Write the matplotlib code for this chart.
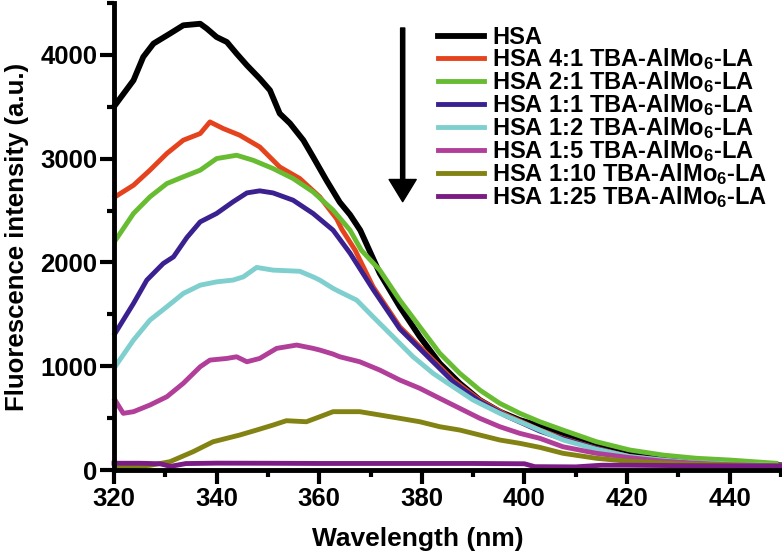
import matplotlib
matplotlib.use('Agg')
import matplotlib.pyplot as plt
from matplotlib.ticker import MultipleLocator

plt.rcParams['font.family'] = ['Liberation Sans', 'DejaVu Sans']
plt.rcParams['font.weight'] = 'bold'
plt.rcParams['mathtext.fontset'] = 'custom'
plt.rcParams['mathtext.rm'] = 'Liberation Sans:bold'
plt.rcParams['mathtext.bf'] = 'Liberation Sans:bold'
plt.rcParams['mathtext.it'] = 'Liberation Sans:bold'
plt.rcParams['mathtext.default'] = 'rm'

# ---------------- data ----------------
wl_hsa = [320.2, 323.8, 325.7, 327.7, 330.9, 333.5, 336.8, 338.1, 340, 342, 343.9, 345.9, 348.4,
          350.4, 352.3, 354.3, 356.9, 358.8, 361.4, 364, 366, 368, 371.8, 375.7, 379.6, 383.5,
          387.4, 391.3, 395.2, 399.1, 403, 407.5, 414, 420.5, 427, 433.5, 440, 450]
int_hsa = [3515, 3755, 3980, 4109, 4205, 4285, 4300, 4253, 4172, 4124, 4012, 3900, 3772,
           3659, 3435, 3340, 3178, 3017, 2792, 2580, 2460, 2310, 1895, 1573, 1284, 1027,
           835, 674, 562, 481, 425, 353, 241, 161, 113, 80, 65, 45]

wl_4_1 = [320.2, 323.8, 327, 330.3, 333.5, 336.8, 338.7, 341.3, 344.5, 348.4, 352.3, 356.2, 360.1,
          363.4, 364.4, 367, 370.5, 375.7, 380.9, 386.1, 391.3, 396.5, 403, 407.5, 414, 420.5,
          427, 433.5, 440, 450]
int_4_1 = [2632, 2744, 2889, 3050, 3178, 3242, 3354, 3290, 3226, 3113, 2920, 2809, 2632,
           2420, 2320, 2118, 1765, 1380, 1124, 867, 674, 530, 385, 305, 209, 128,
           96, 58, 50, 40]

wl_2_1 = [320.3, 323.8, 327, 330.3, 333.5, 336.8, 340, 343.9, 347.1, 351, 354.9, 358.8, 362.7,
          366, 368.2, 371.8, 375.7, 379.6, 383.5, 387.4, 391.3, 395.2, 399.1, 403, 407.5, 414,
          420.5, 427, 433.5, 440, 449]
int_2_1 = [2215, 2472, 2632, 2760, 2825, 2889, 3001, 3033, 2985, 2905, 2809, 2680, 2504,
           2311, 2118, 1926, 1637, 1380, 1124, 931, 770, 642, 546, 465, 385, 273,
           193, 144, 113, 96, 65]

wl_1_1 = [320.2, 323.8, 326.4, 329.6, 331.6, 334.2, 336.8, 340, 343.2, 345.9, 348.4, 351, 354.9,
          358.8, 362.7, 366, 370.5, 375.7, 380.9, 386.1, 391.3, 396.5, 403, 407.5, 414, 420.5,
          427, 433.5, 440, 450]
int_1_1 = [1316, 1605, 1830, 1990, 2054, 2240, 2391, 2472, 2584, 2670, 2690, 2670, 2600,
           2472, 2311, 2090, 1740, 1360, 1105, 850, 660, 520, 375, 300, 205, 125,
           92, 58, 50, 40]

wl_1_2 = [320.2, 323.8, 327, 330.3, 333.5, 336.8, 340, 343.2, 345.2, 347.8, 351, 356.2, 358.8,
          360.1, 362.7, 364, 367.3, 370.5, 374.4, 378.3, 382.2, 386.1, 390, 395.2, 401, 407.5,
          414, 420.5, 427, 433.5, 440, 449]
int_1_2 = [995, 1252, 1444, 1573, 1701, 1781, 1813, 1830, 1861, 1952, 1926, 1915, 1861,
           1830, 1750, 1717, 1637, 1476, 1284, 1091, 931, 802, 674, 546, 425, 290,
           200, 130, 95, 70, 55, 45]

wl_1_5 = [320.2, 321.8, 323.8, 327, 330.3, 333.5, 336.8, 338.7, 342, 343.9, 345.9, 348.4, 351.7,
          355.6, 358.8, 360.1, 362.7, 364, 367.9, 371.8, 375.7, 379.6, 383.5, 387.4, 391.3,
          395.2, 399.1, 403, 407.5, 414, 420.5, 427, 433.5, 440, 449]
int_1_5 = [674, 546, 562, 626, 706, 835, 995, 1059, 1075, 1091, 1043, 1075, 1172,
           1204, 1172, 1156, 1117, 1091, 1043, 963, 867, 787, 690, 594, 498,
           417, 353, 305, 224, 161, 119, 85, 65, 50, 40]

wl_1_10 = [320.2, 324, 327, 330.9, 335.4, 339.3, 344.5, 347.8, 351, 353.6, 357.5, 360.1, 362.7,
           367.9, 371.8, 375.7, 379.6, 383.5, 387.4, 391.3, 395.2, 399.1, 403, 407.5, 414,
           420, 430, 440, 450]
int_1_10 = [20, 35, 45, 80, 176, 272, 337, 385, 433, 475, 465, 513, 562,
            562, 530, 498, 465, 417, 385, 337, 289, 257, 218, 161, 113,
            85, 60, 50, 40]

wl_1_25 = [320, 325, 329, 331, 334, 340, 350, 360, 370, 380, 390, 400, 402, 410, 415, 420, 430, 440, 450]
int_1_25 = [65, 65, 60, 35, 62, 66, 65, 63, 63, 63, 63, 60, 32, 30, 46, 46, 42, 40, 38]

labels = ['HSA',
          'HSA 4:1 TBA-AlMo$_6$-LA',
          'HSA 2:1 TBA-AlMo$_6$-LA',
          'HSA 1:1 TBA-AlMo$_6$-LA',
          'HSA 1:2 TBA-AlMo$_6$-LA',
          'HSA 1:5 TBA-AlMo$_6$-LA',
          'HSA 1:10 TBA-AlMo$_6$-LA',
          'HSA 1:25 TBA-AlMo$_6$-LA']
colors = ['#000000', '#e5431e', '#68bc32', '#3b2190', '#80cfcf', '#b13f9a', '#838313', '#7a1c84']

series = [(wl_hsa, int_hsa), (wl_4_1, int_4_1), (wl_2_1, int_2_1), (wl_1_1, int_1_1),
          (wl_1_2, int_1_2), (wl_1_5, int_1_5), (wl_1_10, int_1_10), (wl_1_25, int_1_25)]

# ---------------- figure ----------------
fig = plt.figure(figsize=(7.82, 5.6), dpi=100)
ax = fig.add_axes([114 / 782, 1 - 470 / 560, (781 - 114) / 782, (470 - 3) / 560])

handles = []
for (x, y), c, lab in zip(series, colors, labels):
    lw = 4.2 if c == '#000000' else 3.5
    h, = ax.plot(x, y, color=c, lw=lw, label=lab, clip_on=False)
    handles.append(h)

ax.set_xlim(320, 450)
ax.set_ylim(0, 4500)
ax.xaxis.set_major_locator(MultipleLocator(20))
ax.xaxis.set_minor_locator(MultipleLocator(10))
ax.yaxis.set_major_locator(MultipleLocator(1000))
ax.yaxis.set_minor_locator(MultipleLocator(500))

for s in ['top', 'right']:
    ax.spines[s].set_visible(False)
for s in ['left', 'bottom']:
    ax.spines[s].set_linewidth(3.5)

ax.tick_params(which='major', length=10, width=3, labelsize=18.5, pad=2)
ax.tick_params(which='minor', length=5, width=3)
for t in ax.get_xticklabels() + ax.get_yticklabels():
    t.set_fontweight('bold')

ax.set_xlabel('Wavelength (nm)', fontsize=19, fontweight='bold')
ax.xaxis.set_label_coords((418 - 114) / 667, -0.123)
ax.set_ylabel('Fluorescence intensity (a.u.)', fontsize=18.5, fontweight='bold')
ax.yaxis.set_label_coords(-0.128, 0.5)

leg = ax.legend(handles=handles, loc='upper left', bbox_to_anchor=(0.4858, 0.951),
                frameon=False, fontsize=17, borderpad=0, borderaxespad=0,
                handlelength=1.96, handletextpad=0.33, labelspacing=-0.12)
for t in leg.get_texts():
    t.set_fontweight('bold')

ax.annotate('', xy=(0.4328, 0.5745), xytext=(0.4328, 0.9465), xycoords='axes fraction',
            textcoords='axes fraction',
            arrowprops=dict(facecolor='black', edgecolor='black', width=3, headwidth=19.5,
                            headlength=16, shrink=0))

fig.savefig('out.png', dpi=100)
